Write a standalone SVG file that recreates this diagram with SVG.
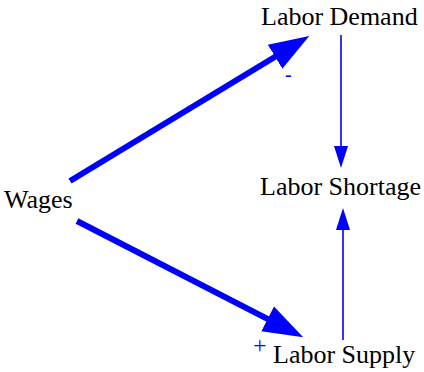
<svg xmlns="http://www.w3.org/2000/svg" width="424" height="372" viewBox="0 0 424 372">
  <style>
    .label { font-family: "Liberation Serif", "Times New Roman", serif; font-size: 26px; fill: #000; }
    .sign { font-family: "Liberation Serif", "Times New Roman", serif; font-size: 20px; fill: #0000ff; }
    .thick { stroke: #0000ff; stroke-width: 6; fill: none; }
    .thin { stroke: #0000ff; stroke-width: 1.6; fill: none; }
  </style>
  <defs>
    <marker id="headBig" markerUnits="userSpaceOnUse" markerWidth="44" markerHeight="32" refX="2" refY="16" orient="auto">
      <path d="M0,2 L40,16 L0,30 z" fill="#0000ff"/>
    </marker>
    <marker id="headSmall" markerUnits="userSpaceOnUse" markerWidth="24" markerHeight="16" refX="1" refY="8" orient="auto">
      <path d="M0,1 L22,8 L0,15 z" fill="#0000ff"/>
    </marker>
  </defs>

  <g id="connectors">
    <line class="thick" x1="70" y1="181" x2="276.8" y2="55.7" marker-end="url(#headBig)"/>
    <line class="thick" x1="77" y1="221" x2="269.4" y2="319.8" marker-end="url(#headBig)"/>
    <line class="thin" x1="341" y1="35" x2="341" y2="147" marker-end="url(#headSmall)"/>
    <line class="thin" x1="343" y1="340" x2="343" y2="229" marker-end="url(#headSmall)"/>
    <text class="sign" x="285" y="81">-</text>
    <text class="sign" x="253" y="353" style="font-size:24px">+</text>
  </g>

  <g id="wages">
    <text class="label" x="4" y="208">Wages</text>
  </g>
  <g id="labor-demand">
    <text class="label" x="261" y="25">Labor Demand</text>
  </g>
  <g id="labor-shortage">
    <text class="label" x="260" y="195">Labor Shortage</text>
  </g>
  <g id="labor-supply">
    <text class="label" x="273" y="363">Labor Supply</text>
  </g>
</svg>
